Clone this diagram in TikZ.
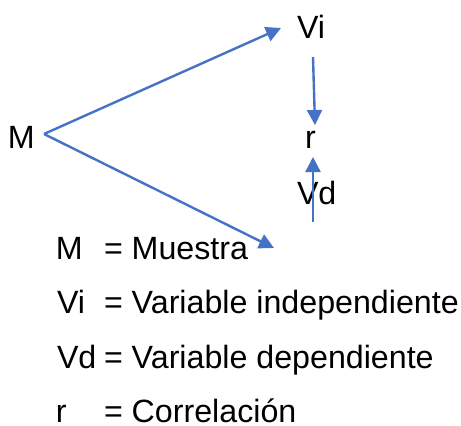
\documentclass[tikz,border=0pt]{standalone}
\usepackage{fontspec}
\setmainfont{Liberation Sans}
\usetikzlibrary{arrows.meta}
\definecolor{arrowblue}{HTML}{4472C4}
\tikzset{
  lbl/.style={inner sep=0pt, outer sep=0pt, anchor=base west, font=\fontsize{32.2}{38}\selectfont},
  conn/.style={draw=arrowblue, line width=2.4pt, -{Triangle[length=15pt,width=15pt]}, arrowblue},
}
\begin{document}
\begin{tikzpicture}[x=1pt,y=-1pt]
\useasboundingbox (0,0) rectangle (461,426);
% diagram labels
\node[lbl] (M) at (8,148) {M};
\node[lbl] (Vi) at (297,38) {Vi};
\node[lbl] (r) at (305,148) {r};
\node[lbl] (Vd) at (297,204) {Vd};
% connector end points
\coordinate (mout) at (44,134);
\coordinate (viend) at (281,28);
\coordinate (lowend) at (274,248);
\coordinate (vibot) at (313,57);
\coordinate (rtop) at (315,125);
\coordinate (vdbot) at (313,222);
\coordinate (rbot) at (313,157);
\draw[conn] (mout) -- (viend);
\draw[conn] (mout) -- (lowend);
\draw[conn] (vibot) -- (rtop);
\draw[conn] (vdbot) -- (rbot);
% legend
\node[lbl] (k1) at (56,259) {M};
\node[lbl] (e1) at (104,259) {= Muestra};
\node[lbl] (k2) at (57,313) {Vi};
\node[lbl] (e2) at (104,313) {= Variable independiente};
\node[lbl] (k3) at (57,368) {Vd};
\node[lbl] (e3) at (104,368) {= Variable dependiente};
\node[lbl] (k4) at (56,422) {r};
\node[lbl] (e4) at (104,422) {= Correlación};
\end{tikzpicture}
\end{document}
